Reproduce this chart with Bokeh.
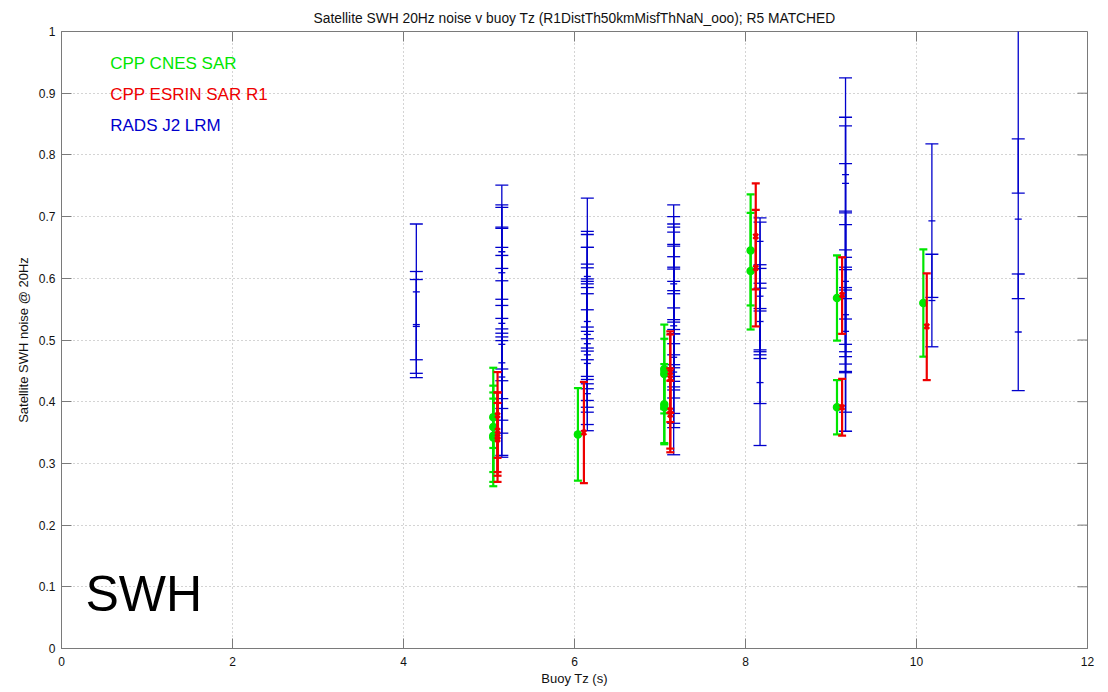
import math
from bokeh.plotting import figure
from bokeh.models import ColumnDataSource
from bokeh.core.properties import value
from bokeh.embed import file_html
from bokeh.resources import INLINE

# ---------------- data ----------------
title_text = "Satellite SWH 20Hz noise v buoy Tz (R1DistTh50kmMisfThNaN_ooo); R5 MATCHED"
x_label = "Buoy Tz (s)"
y_label = "Satellite SWH noise @ 20Hz"
x_ticks = [0, 2, 4, 6, 8, 10, 12]
y_ticks = [0, 0.1, 0.2, 0.3, 0.4, 0.5, 0.6, 0.7, 0.8, 0.9, 1]
y_tick_labels = ["0", "0.1", "0.2", "0.3", "0.4", "0.5", "0.6", "0.7", "0.8", "0.9", "1"]

series_names = ["CPP CNES SAR", "CPP ESRIN SAR R1", "RADS J2 LRM"]
series_colors = ["#00e600", "#ee0000", "#0000cc"]

# CPP CNES SAR (green): one entry per Tz bin, one value per error bar
green_tz = [5.05, 6.04, 7.05, 8.06, 9.07, 10.08]
green_mean = [[0.375, 0.359, 0.345, 0.342], [0.347], [0.453, 0.445, 0.396, 0.391],
              [0.645, 0.612], [0.568, 0.391], [0.560]]
green_lo = [[0.286, 0.325, 0.263, 0.270], [0.272], [0.381, 0.388, 0.331, 0.333],
            [0.556, 0.517], [0.499, 0.347], [0.473]]
green_hi = [[0.455, 0.405, 0.426, 0.415], [0.422], [0.525, 0.502, 0.461, 0.449],
            [0.736, 0.706], [0.637, 0.435], [0.647]]

# CPP ESRIN SAR R1 (red)
red_tz = [5.10, 6.11, 7.12, 8.12, 9.13, 10.12]
red_mean = [[0.378, 0.353, 0.339, 0.343], [0.350], [0.448, 0.438, 0.386, 0.379],
            [0.668, 0.617], [0.573, 0.391], [0.522]]
red_lo = [[0.309, 0.286, 0.280, 0.270], [0.268], [0.382, 0.367, 0.318, 0.324],
          [0.582, 0.522], [0.510, 0.345], [0.435]]
red_hi = [[0.448, 0.415, 0.398, 0.415], [0.432], [0.514, 0.509, 0.454, 0.434],
          [0.754, 0.711], [0.634, 0.437], [0.608]]

# RADS J2 LRM (blue)
blue_tz = [4.15, 5.15, 6.15, 7.16, 8.17, 9.17, 10.18, 11.19]
blue_hi = [
    [0.688, 0.611, 0.598],
    [0.751, 0.719, 0.715, 0.683, 0.681, 0.650, 0.637, 0.616, 0.596, 0.566, 0.556, 0.535],
    [0.730, 0.676, 0.671, 0.650, 0.650, 0.623, 0.617, 0.599, 0.595, 0.591, 0.585, 0.575, 0.549, 0.521],
    [0.719, 0.700, 0.688, 0.683, 0.675, 0.655, 0.652, 0.635, 0.618, 0.615, 0.595, 0.580, 0.575, 0.552, 0.533, 0.529],
    [0.698, 0.691, 0.622, 0.616, 0.592, 0.584, 0.551],
    [0.925, 0.861, 0.847, 0.786, 0.709, 0.706, 0.687, 0.646, 0.634, 0.618, 0.614, 0.585],
    [0.818, 0.639],
    [0.826, 0.607, 1.10],
]
blue_lo = [
    [0.468, 0.439, 0.446],
    [0.518, 0.511, 0.505, 0.499, 0.453, 0.434, 0.405, 0.389, 0.370, 0.349, 0.313, 0.310],
    [0.514, 0.502, 0.487, 0.482, 0.468, 0.441, 0.436, 0.429, 0.421, 0.402, 0.391, 0.383, 0.363, 0.353],
    [0.517, 0.510, 0.510, 0.494, 0.476, 0.460, 0.455, 0.441, 0.433, 0.424, 0.419, 0.406, 0.381, 0.365, 0.358, 0.314],
    [0.547, 0.484, 0.481, 0.476, 0.470, 0.397, 0.329],
    [0.581, 0.567, 0.534, 0.493, 0.481, 0.473, 0.461, 0.449, 0.447, 0.383, 0.352, 0.352],
    [0.569, 0.489],
    [0.567, 0.418, 0.738],
]
blue_mean = [
    [0.578, 0.525, 0.522],
    [0.643, 0.609, 0.527, 0.493, 0.463, 0.440],
    [0.603, 0.530, 0.509, 0.494, 0.476, 0.462, 0.413],
    [0.591, 0.523, 0.472, 0.448],
    [0.660, 0.571, 0.530, 0.431],
    [0.768, 0.754, 0.595, 0.541, 0.514],
    [0.693, 0.564],
    [0.696, 0.513],
]

panel_tag = "SWH"

# ---------------- helpers ----------------
def flatten(tz, groups):
    xs, vs = [], []
    for t, g in zip(tz, groups):
        for v in g:
            xs.append(t)
            vs.append(v)
    return xs, vs

FONT = value("Liberation Sans")
AX = "#7a7a7a"
X0, X1 = x_ticks[0], x_ticks[-1]
Y0, Y1 = y_ticks[0], y_ticks[-1]

p = figure(width=1100, height=690, x_range=(X0, X1), y_range=(Y0, Y1),
           output_backend="svg", toolbar_location=None, title=title_text,
           min_border_left=61, min_border_right=13, min_border_top=31, min_border_bottom=42)
p.title.text_font = "Liberation Sans"
p.title.text_font_size = "13.8px"
p.title.text_font_style = "normal"
p.title.align = "center"
p.title.standoff = 12
p.title.text_color = "#111111"
p.outline_line_color = AX
p.background_fill_color = "white"
p.border_fill_color = "white"

for ax in (p.xaxis[0], p.yaxis[0]):
    ax.axis_line_color = AX
    ax.major_tick_line_color = AX
    ax.major_tick_in = 10
    ax.major_tick_out = 0
    ax.minor_tick_line_color = None
    ax.major_label_text_font = "Liberation Sans"
    ax.major_label_text_font_size = "12px"
    ax.major_label_text_color = "#111111"
    ax.axis_label_text_font = "Liberation Sans"
    ax.axis_label_text_font_size = "13px"
    ax.axis_label_text_font_style = "normal"
    ax.axis_label_text_color = "#111111"

p.xaxis.ticker = x_ticks
p.yaxis.ticker = y_ticks
p.yaxis.major_label_overrides = {t: s for t, s in zip(y_ticks, y_tick_labels)}
p.xaxis.axis_label = x_label
p.yaxis.axis_label = y_label
p.xaxis.major_label_standoff = 8
p.xaxis.axis_label_standoff = 2
p.yaxis.major_label_standoff = 6
p.yaxis.axis_label_standoff = 5

# inward ticks on the right and top edges of the box
p.ray(x=[X1] * len(y_ticks), y=y_ticks, length=10, length_units="screen",
      angle=math.pi, line_color=AX, line_width=1)
p.ray(x=x_ticks, y=[Y1] * len(x_ticks), length=10, length_units="screen",
      angle=-math.pi / 2, line_color=AX, line_width=1)

p.xgrid.grid_line_color = "#a8a8a8"
p.ygrid.grid_line_color = "#a8a8a8"
p.xgrid.grid_line_dash = "1 3"
p.ygrid.grid_line_dash = "1 3"

# ---------------- error bars ----------------
def draw_bars(tz, lo, hi, color, lw, cap):
    xs, los = flatten(tz, lo)
    _, his = flatten(tz, hi)
    src = ColumnDataSource(dict(x=xs, lo=los, hi=his))
    p.segment(x0="x", y0="lo", x1="x", y1="hi", source=src, line_color=color, line_width=lw)
    p.scatter(x="x", y="lo", source=src, marker="dash", size=cap, line_color=color, line_width=lw)
    p.scatter(x="x", y="hi", source=src, marker="dash", size=cap, line_color=color, line_width=lw)

draw_bars(blue_tz, blue_lo, blue_hi, series_colors[2], 1.3, 13)
bx, bm = flatten(blue_tz, blue_mean)
p.scatter(x=bx, y=bm, marker="dash", size=7, line_color=series_colors[2], line_width=1.3)

draw_bars(green_tz, green_lo, green_hi, series_colors[0], 2.2, 8)
gx, gm = flatten(green_tz, green_mean)
p.scatter(x=gx, y=gm, marker="circle", size=7, fill_color=series_colors[0],
          line_color=series_colors[0], line_width=1.5)

draw_bars(red_tz, red_lo, red_hi, series_colors[1], 2.2, 8)
rx, rm = flatten(red_tz, red_mean)
p.scatter(x=rx, y=rm, marker="x", size=7, line_color=series_colors[1], line_width=2.4)

# ---------------- in-axes legend text and panel tag ----------------
legend_x = [0.57, 0.57, 0.57]
legend_y = [0.948, 0.898, 0.848]
p.text(x=legend_x, y=legend_y, text=series_names, text_color=series_colors,
       text_font=FONT, text_font_size="17px", text_baseline="alphabetic", text_align="left")

p.text(x=[0.28], y=[0.088], text=[panel_tag], text_color="black",
       text_font=FONT, text_font_size="50px", text_baseline="alphabetic", text_align="left")

open("out.html", "w").write(file_html(p, INLINE))
